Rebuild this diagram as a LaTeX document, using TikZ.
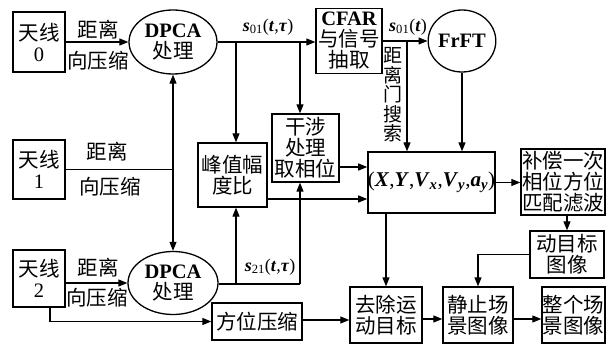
\documentclass[tikz,border=0pt]{standalone}
\usepackage{fontspec}
\setmainfont{Liberation Serif}
\newfontfamily\cjk{Noto Sans CJK SC}
\usetikzlibrary{arrows.meta,shapes.geometric}
\newcommand{\bi}[1]{\textbf{\textit{#1}}}
\begin{document}
\begin{tikzpicture}[x=1pt,y=-1pt,
 box/.style={draw,line width=1.3pt,inner sep=0pt,align=center,font=\cjk\fontsize{20.5}{21}\selectfont},
 oval/.style={draw,ellipse,line width=1.3pt,inner sep=0pt,align=center,font=\fontsize{20.5}{21}\selectfont},
 lbl/.style={inner sep=0pt,align=center,font=\cjk\fontsize{20.5}{21}\selectfont},
 mlbl/.style={inner sep=0pt,font=\fontsize{18}{18}\selectfont},
 arr/.style={line width=1.1pt,-{Triangle[length=9pt,width=7pt]}},
 ln/.style={line width=1.1pt}]
\useasboundingbox (0,0) rectangle (616,347);
% nodes
\node[box,minimum width=52pt,minimum height=60pt] (ant0) at (39,42) {天线\\{\rmfamily 0}};
\node[box,minimum width=52pt,minimum height=59pt] (ant1) at (39,169.5) {天线\\{\rmfamily 1}};
\node[box,minimum width=52pt,minimum height=57pt] (ant2) at (39,278.5) {天线\\{\rmfamily 2}};
\node[oval,minimum width=88pt,minimum height=64pt] (dpca0) at (173,42) {\textbf{DPCA}\\{\cjk 处理}};
\node[oval,minimum width=90pt,minimum height=63pt] (dpca2) at (173,283) {\textbf{DPCA}\\{\cjk 处理}};
\node[box,minimum width=66pt,minimum height=65pt] (cfar) at (349,41) {{\rmfamily\bfseries CFAR}\\与信号\\抽取};
\node[oval,minimum width=64pt,minimum height=62pt] (frft) at (462,41) {\textbf{FrFT}};
\node[box,minimum width=69pt,minimum height=64pt] (peak) at (232.5,175) {峰值幅\\度比};
\node[box,minimum width=67pt,minimum height=68pt] (interf) at (305.5,148) {干涉\\处理\\取相位};
\node[box,minimum width=127pt,minimum height=61pt] (xy) at (431.5,182.5) {\rmfamily\fontsize{21}{22}\selectfont(\bi{X},\bi{Y},\bi{V}\textsubscript{\bi{x}},\bi{V}\textsubscript{\bi{y}},\bi{a}\textsubscript{\bi{y}})};
\node[box,minimum width=84pt,minimum height=66pt] (comp) at (563,182) {补偿一次\\相位方位\\匹配滤波};
\node[box,minimum width=74pt,minimum height=47pt] (mov) at (567,254.5) {动目标\\图像};
\node[box,minimum width=90pt,minimum height=37pt] (azi) at (257,321.5) {方位压缩};
\node[box,minimum width=72pt,minimum height=56pt] (rem) at (386,315) {去除运\\动目标};
\node[box,minimum width=70pt,minimum height=56pt] (stat) at (478,315) {静止场\\景图像};
\node[box,minimum width=63pt,minimum height=56pt] (whole) at (573.5,315) {整个场\\景图像};
% labels
\node[lbl] (l0a) at (98,30) {距离};
\node[lbl] (l0b) at (98,61) {向压缩};
\node[lbl] (l1a) at (107,152) {距离};
\node[lbl] (l1b) at (110,187) {向压缩};
\node[lbl] (l2a) at (98,268) {距离};
\node[lbl] (l2b) at (97,298) {向压缩};
\node[lbl,font=\cjk\fontsize{19}{19.5}\selectfont] (lsearch) at (393,95) {距\\离\\门\\搜\\索};
\node[mlbl] (s01a) at (268,27) {\bi{s}\textsubscript{01}(\bi{t},\bi{τ})};
\node[mlbl] (s01b) at (408,27) {\bi{s}\textsubscript{01}(\bi{t})};
\node[mlbl] (s21) at (270,267) {\bi{s}\textsubscript{21}(\bi{t},\bi{τ})};
% coordinates
\coordinate (b1) at (236,42);
\coordinate (b2) at (300,42);
\coordinate (b3) at (407,41);
\coordinate (c1) at (236,284);
\coordinate (c2) at (300,284);
\coordinate (y167) at (0,167);
\coordinate (y199) at (0,199);
\coordinate (y319) at (0,319);
\coordinate (y320) at (0,320);
\coordinate (x50) at (50,0);
% connectors
\draw[arr] (ant0.east) -- (ant0.east -| dpca0.west);
\draw[arr] (dpca0.east) -- (dpca0.east -| cfar.west);
\draw[arr] (b1) -- (b1 |- peak.north);
\draw[arr] (b2) -- (b2 |- interf.north);
\draw[arr] (cfar.east) -- (cfar.east -| frft.west);
\draw[arr] (b3) -- (b3 |- xy.north);
\draw[arr] (frft.south) -- (frft.south |- xy.north);
\coordinate (j1) at (ant1.east -| dpca0.south);
\draw[ln] (ant1.east) -- (j1);
\draw[arr] (j1) -- (dpca0.south);
\draw[arr] (j1) -- (dpca2.north);
\draw[arr] (ant2.east |- dpca2.west) -- (dpca2.west);
\draw[ln] (dpca2.east |- c2) -- (c2);
\draw[arr] (c1) -- (c1 |- peak.south);
\draw[arr] (c2) -- (c2 |- interf.south);
\draw[arr] (interf.east |- y167) -- (xy.west |- y167);
\draw[arr] (peak.east |- y199) -- (xy.west |- y199);
\draw[arr] (xy.east) -- (xy.east -| comp.west);
\draw[arr] (mov.north |- comp.south) -- (mov.north);
\draw[arr] (mov.west) -| (stat.north);
\draw[arr] (rem.north |- xy.south) -- (rem.north);
\draw[arr] (rem.east |- y319) -- (stat.west |- y319);
\draw[arr] (stat.east |- y319) -- (whole.west |- y319);
\draw[arr] (azi.east |- y320) -- (rem.west |- y320);
\draw[arr] (ant2.south -| x50) |- (azi.west);
\end{tikzpicture}
\end{document}
